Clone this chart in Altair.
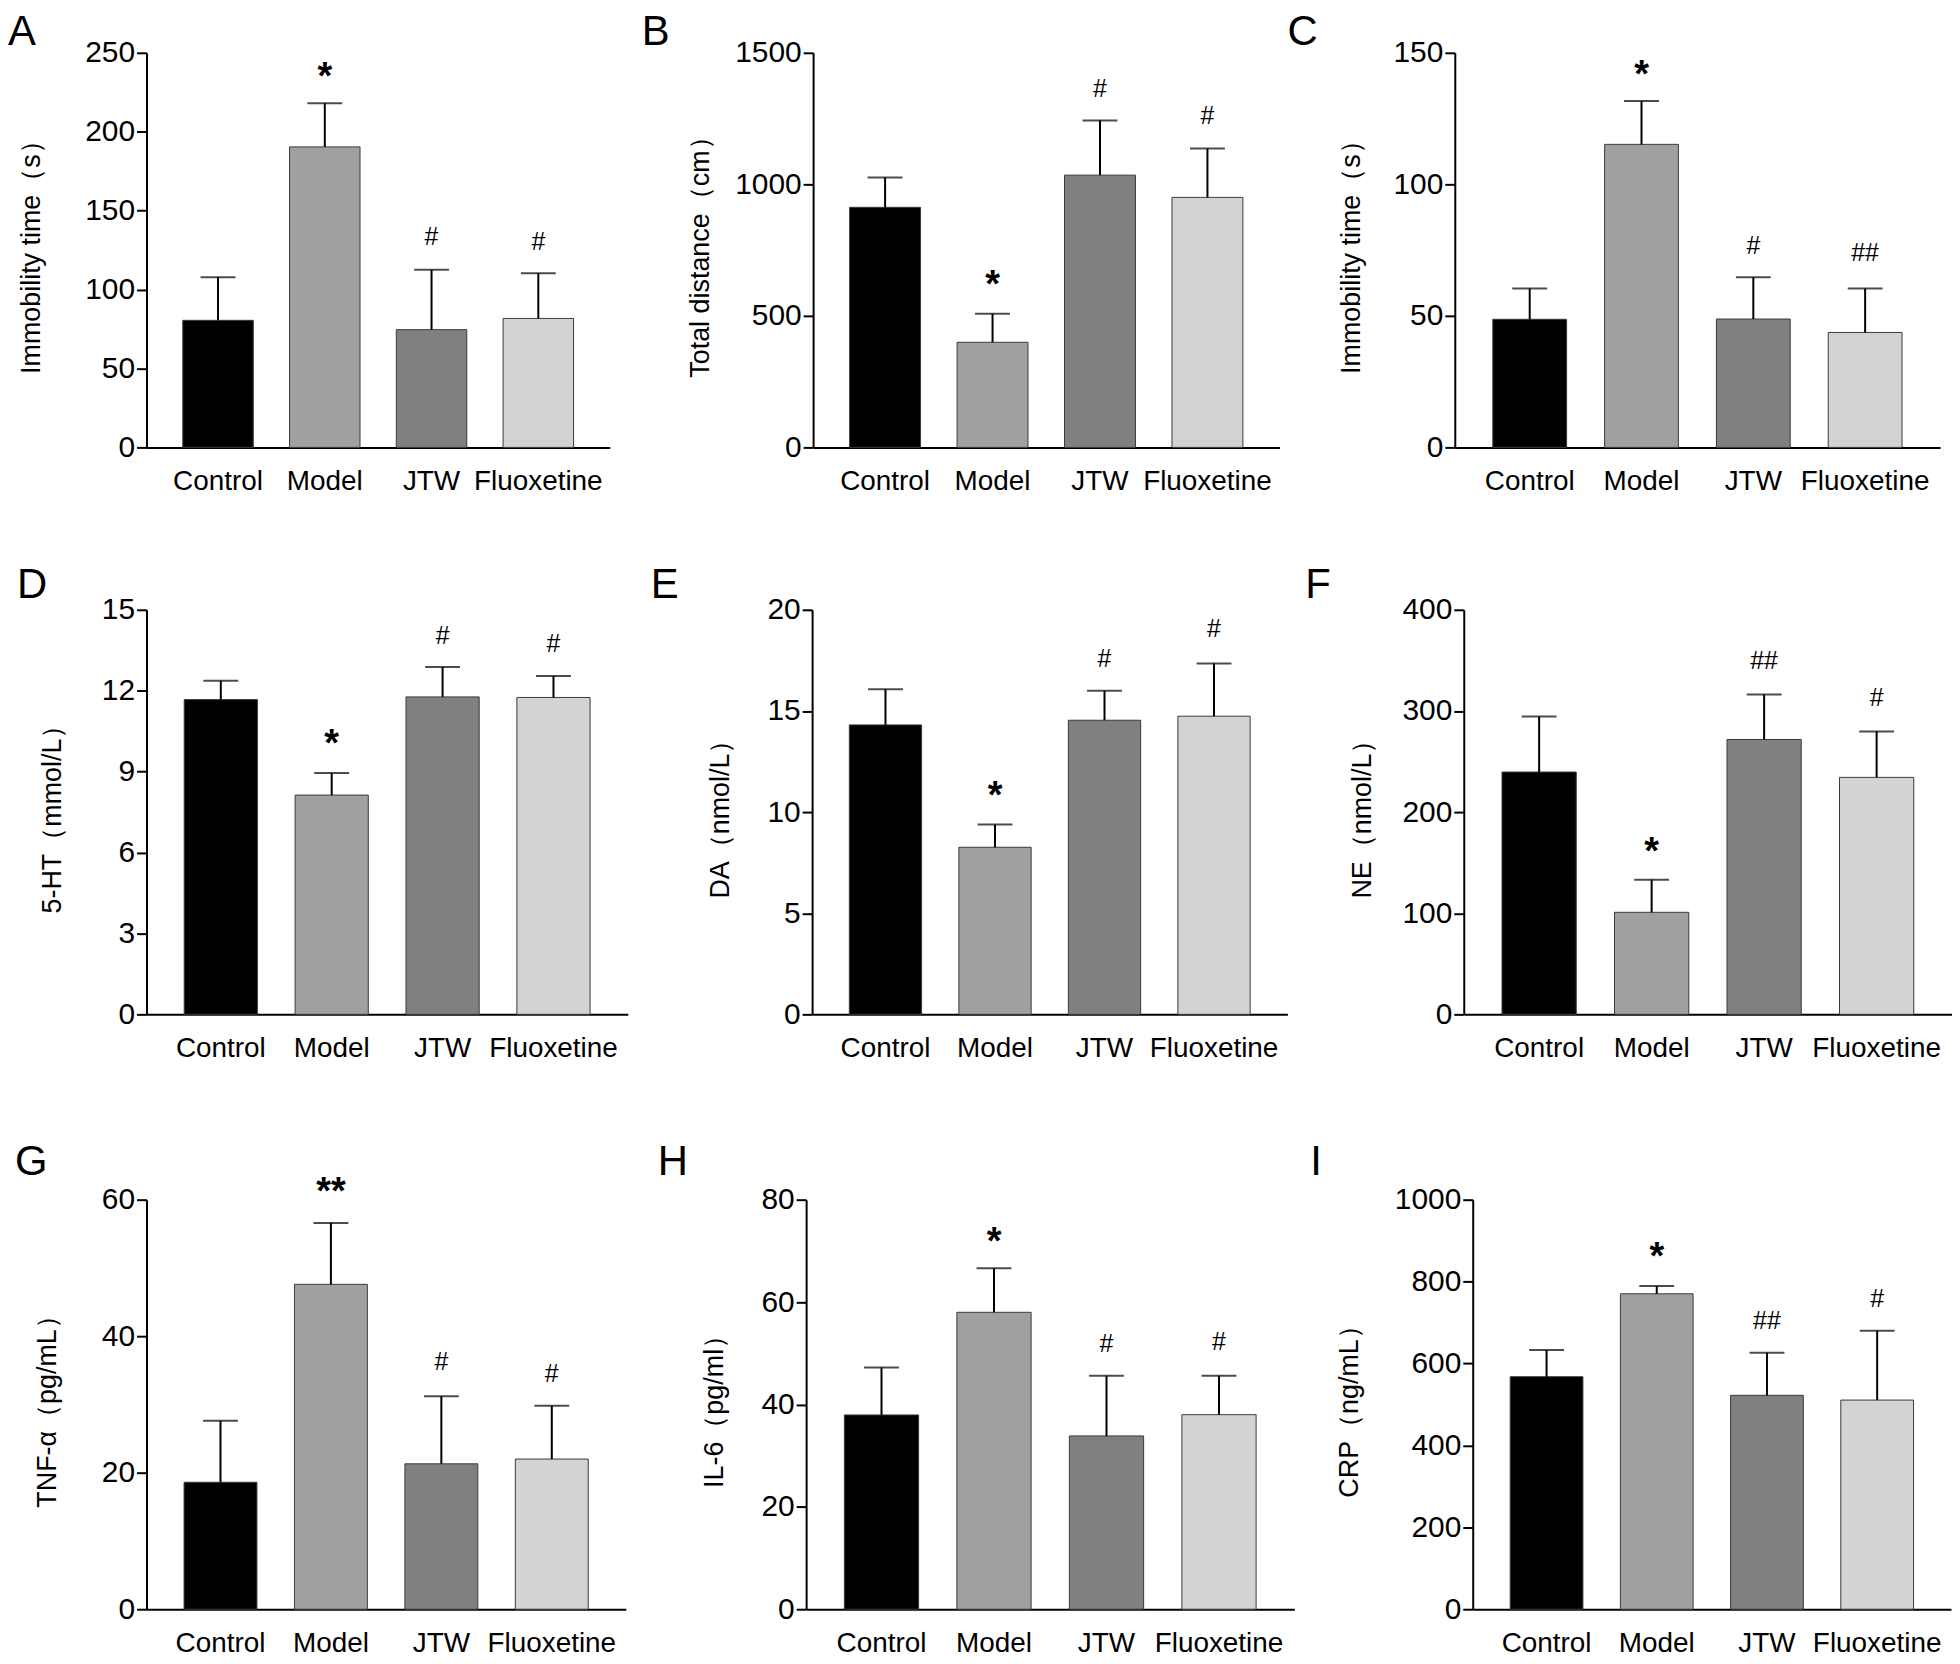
import altair as alt
import pandas as pd

FONT = "Liberation Sans"

groups = ["Control", "Model", "JTW", "Fluoxetine"]
bar_colors = ["#000000", "#a0a0a0", "#808080", "#d3d3d3"]

# ---- data (means, upper error (SEM), annotation marks and their heights) ----
A_means = [80.5, 190.4, 74.6, 81.7]
A_errs = [27.3, 27.6, 37.9, 28.7]
A_marks = ["", "*", "#", "#"]
A_mark_y = [0, 236, 132.7, 129.5]
A_ticks = [0, 50, 100, 150, 200, 250]

B_means = [912.6, 399.6, 1035, 950.5]
B_errs = [113.4, 108.4, 208, 185.5]
B_marks = ["", "*", "#", "#"]
B_mark_y = [0, 624, 1359, 1254]
B_ticks = [0, 500, 1000, 1500]

C_means = [48.7, 115.2, 48.8, 43.7]
C_errs = [11.7, 16.5, 15.9, 16.7]
C_marks = ["", "*", "#", "##"]
C_mark_y = [0, 142.4, 76.3, 73.5]
C_ticks = [0, 50, 100, 150]

D_means = [11.67, 8.13, 11.77, 11.75]
D_errs = [0.70, 0.82, 1.11, 0.80]
D_marks = ["", "*", "#", "#"]
D_mark_y = [0, 10.1, 14.0, 13.7]
D_ticks = [0, 3, 6, 9, 12, 15]

E_means = [14.31, 8.26, 14.54, 14.74]
E_errs = [1.76, 1.12, 1.46, 2.61]
E_marks = ["", "*", "#", "#"]
E_mark_y = [0, 10.9, 17.5, 19.0]
E_ticks = [0, 5, 10, 15, 20]

F_means = [239.6, 100.9, 271.8, 234.3]
F_errs = [54.9, 32.2, 44.4, 45.4]
F_marks = ["", "*", "##", "#"]
F_mark_y = [0, 162, 348, 312]
F_ticks = [0, 100, 200, 300, 400]

G_means = [18.6, 47.6, 21.3, 22.0]
G_errs = [9.0, 9.0, 9.9, 7.8]
G_marks = ["", "**", "#", "#"]
G_mark_y = [0, 61.4, 36.0, 34.3]
G_ticks = [0, 20, 40, 60]

H_means = [37.95, 58.0, 33.85, 38.0]
H_errs = [9.25, 8.6, 11.75, 7.6]
H_marks = ["", "*", "#", "#"]
H_mark_y = [0, 72.2, 51.7, 52.0]
H_ticks = [0, 20, 40, 60, 80]

I_means = [567.8, 770.2, 522.3, 510.7]
I_errs = [65.2, 19.1, 104.1, 169.5]
I_marks = ["", "*", "##", "#"]
I_mark_y = [0, 863.6, 700.8, 756.2]
I_ticks = [0, 200, 400, 600, 800, 1000]

panels = [
    dict(letter="A", ylabel="Immobility time（s）", means=A_means, errs=A_errs, marks=A_marks, mark_y=A_mark_y, ticks=A_ticks, w=465, h=396, lx=-139, ly=-41, tx=-115),
    dict(letter="B", ylabel="Total distance（cm）", means=B_means, errs=B_errs, marks=B_marks, mark_y=B_mark_y, ticks=B_ticks, w=468, h=396, lx=-172, ly=-41, tx=-113),
    dict(letter="C", ylabel="Immobility time（s）", means=C_means, errs=C_errs, marks=C_marks, mark_y=C_mark_y, ticks=C_ticks, w=487, h=396, lx=-168, ly=-41, tx=-104),
    dict(letter="D", ylabel="5-HT（mmol/L）", means=D_means, errs=D_errs, marks=D_marks, mark_y=D_mark_y, ticks=D_ticks, w=483, h=406, lx=-130, ly=-45, tx=-94),
    dict(letter="E", ylabel="DA（nmol/L）", means=E_means, errs=E_errs, marks=E_marks, mark_y=E_mark_y, ticks=E_ticks, w=477, h=406, lx=-162, ly=-45, tx=-92),
    dict(letter="F", ylabel="NE（nmol/L）", means=F_means, errs=F_errs, marks=F_marks, mark_y=F_mark_y, ticks=F_ticks, w=490, h=406, lx=-159, ly=-45, tx=-102),
    dict(letter="G", ylabel="TNF-α（pg/mL）", means=G_means, errs=G_errs, marks=G_marks, mark_y=G_mark_y, ticks=G_ticks, w=481, h=411, lx=-132, ly=-58, tx=-99),
    dict(letter="H", ylabel="IL-6（pg/ml）", means=H_means, errs=H_errs, marks=H_marks, mark_y=H_mark_y, ticks=H_ticks, w=490, h=411, lx=-149, ly=-58, tx=-92),
    dict(letter="I", ylabel="CRP（ng/mL）", means=I_means, errs=I_errs, marks=I_marks, mark_y=I_mark_y, ticks=I_ticks, w=480, h=411, lx=-163, ly=-58, tx=-124),
]


def make_panel(p):
    df = pd.DataFrame({"group": groups, "mean": p["means"], "err": p["errs"]})
    df["upper"] = df["mean"] + df["err"]
    mk = pd.DataFrame({"group": groups, "mark": p["marks"], "my": p["mark_y"]})
    stars = mk[mk["mark"].str.contains(r"\*")]
    hashes = mk[mk["mark"].str.contains("#")]

    x_enc = alt.X(
        "group:N",
        sort=groups,
        scale=alt.Scale(domain=groups, paddingInner=0.34, paddingOuter=0.34),
        axis=alt.Axis(
            title=None, labelAngle=0, ticks=False, tickSize=0, labelPadding=20,
            labelFontSize=28, labelFont=FONT, labelColor="black",
            domainColor="black", domainWidth=2,
        ),
    )
    x_plain = alt.X("group:N", sort=groups)
    yscale = alt.Scale(domain=[0, p["ticks"][-1]], nice=False, zero=True)
    yaxis = alt.Axis(
        values=p["ticks"], format="d", title=p["ylabel"], titleX=p["tx"], titleBaseline="middle",
        titleFontSize=27, titleFontWeight="normal", titleFont=FONT, titleColor="black",
        labelFontSize=30, labelFont=FONT, labelColor="black", labelPadding=2,
        tickSize=10, tickWidth=2, tickColor="black", domainColor="black", domainWidth=2,
        grid=False,
    )

    bars = alt.Chart(df).mark_bar(stroke="#3a3a3a", strokeWidth=1).encode(
        x=x_enc,
        y=alt.Y("mean:Q", scale=yscale, axis=yaxis),
        color=alt.Color("group:N", scale=alt.Scale(domain=groups, range=bar_colors), legend=None),
    )
    rule = alt.Chart(df).mark_rule(color="black", strokeWidth=2).encode(
        x=x_plain, y=alt.Y("mean:Q", axis=yaxis), y2="upper:Q"
    )
    cap = alt.Chart(df).mark_tick(color="black", thickness=2, size=35).encode(
        x=x_plain, y=alt.Y("upper:Q", axis=yaxis)
    )
    star_layer = alt.Chart(stars).mark_text(
        fontSize=38, fontWeight="bold", font=FONT, color="black", baseline="alphabetic", dy=14
    ).encode(x=x_plain, y=alt.Y("my:Q", axis=yaxis), text="mark:N")
    hash_layer = alt.Chart(hashes).mark_text(
        fontSize=25, font=FONT, color="black", baseline="alphabetic", dy=7
    ).encode(x=x_plain, y=alt.Y("my:Q", axis=yaxis), text="mark:N")
    letter = alt.Chart(pd.DataFrame({"t": [p["letter"]]})).mark_text(
        align="left", baseline="top", fontSize=42, font=FONT, color="black"
    ).encode(text="t:N", x=alt.value(p["lx"]), y=alt.value(p["ly"]))

    return alt.layer(bars, rule, cap, star_layer, hash_layer, letter).properties(
        width=p["w"], height=p["h"]
    )


c = [make_panel(p) for p in panels]
row1 = alt.hconcat(alt.hconcat(c[0], c[1], spacing=32), c[2], spacing=8)
row2 = alt.hconcat(alt.hconcat(c[3], c[4], spacing=23), c[5], spacing=18)
row3 = alt.hconcat(alt.hconcat(c[6], c[7], spacing=32), c[8], spacing=16)

top_rows = alt.concat(row1, row2, columns=1, align="none", spacing=69)
chart = alt.concat(top_rows, row3, columns=1, align="none", spacing=79).properties(
    padding=0
).configure_view(stroke=None).configure_axis(grid=False)

chart.save("out.html", embed_options={"renderer": "svg", "actions": False})
